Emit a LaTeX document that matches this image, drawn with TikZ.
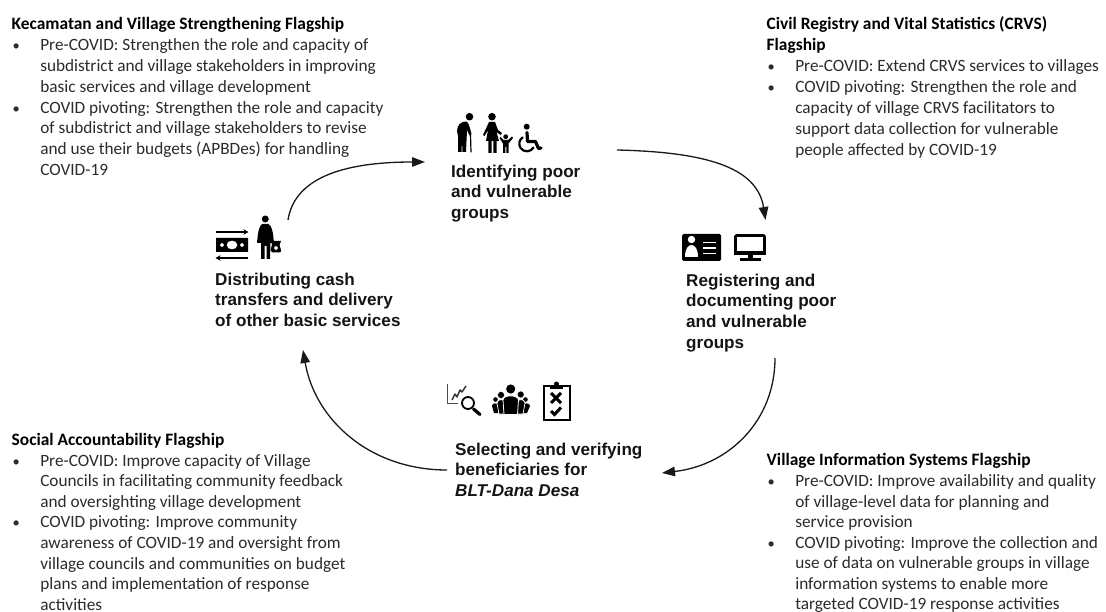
\documentclass[tikz,border=0pt]{standalone}
\usepackage{fontspec}
\setmainfont{Carlito}
\newfontfamily\lblfont{Liberation Sans}
\usetikzlibrary{arrows.meta}
\newcommand\bl{\makebox[28.6pt][l]{\hspace*{1pt}\fontsize{14.5}{20.85}\selectfont •}}
\newcommand\ind{\hspace*{28.6pt}}
\newcommand\ttl[1]{{\fontsize{17.4}{20.85}\selectfont\textcolor{black}{\textbf{#1}}}}
\definecolor{ink}{HTML}{2B2B2B}
\definecolor{labelink}{HTML}{141414}
\tikzset{
  flagship/.style={anchor=north west,inner sep=0pt,align=left,text=ink,font=\fontsize{17.25}{20.85}\selectfont},
  flagship low/.style={flagship,font=\fontsize{17.25}{20.55}\selectfont},
  steplabel/.style={anchor=north west,inner sep=0pt,align=left,text=labelink,font=\lblfont\bfseries\fontsize{17.1}{20.8}\selectfont},
  cyclearrow/.style={draw=black!90,line width=1.3pt,-{Triangle[length=13pt,width=9.5pt]}},
  solid ink/.style={fill=black,draw=none},
  stroke ink/.style={draw=black,fill=none,line cap=round,line join=round}
}
\begin{document}
\begin{tikzpicture}[x=1pt,y=-1pt]
\useasboundingbox (0,0) rectangle (1106,612);
\fill[white] (0,0) rectangle (1106,612);
% flagship text
\node[flagship] (kec) at (11.5,17.3) {\ttl{Kecamatan and Village Strengthening Flagship}\\
\bl Pre-COVID: Strengthen the role and capacity of\\
\ind subdistrict and village stakeholders in improving\\
\ind basic services and village development\\
\bl COVID pivoting: Strengthen the role and capacity\\
\ind of subdistrict and village stakeholders to revise\\
\ind and use their budgets (APBDes) for handling\\
\ind COVID-19};
\node[flagship] (crvs) at (766.5,16.8) {\ttl{Civil Registry and Vital Statistics (CRVS)}\\
\ttl{Flagship}\\
\bl Pre-COVID: Extend CRVS services to villages\\
\bl COVID pivoting: Strengthen the role and\\
\ind capacity of village CRVS facilitators to\\
\ind support data collection for vulnerable\\
\ind people affected by COVID-19};
\node[flagship low] (soc) at (11.5,433.3) {\ttl{Social Accountability Flagship}\\
\bl Pre-COVID: Improve capacity of Village\\
\ind Councils in facilitating community feedback\\
\ind and oversighting village development\\
\bl COVID pivoting: Improve community\\
\ind awareness of COVID-19 and oversight from\\
\ind village councils and communities on budget\\
\ind plans and implementation of response\\
\ind activities};
\node[flagship low] (vis) at (766.5,453.5) {\ttl{Village Information Systems Flagship}\\
\bl Pre-COVID: Improve availability and quality\\
\ind of village-level data for planning and\\
\ind service provision\\
\bl COVID pivoting: Improve the collection and\\
\ind use of data on vulnerable groups in village\\
\ind information systems to enable more\\
\ind targeted COVID-19 response activities};
% step labels
\node[steplabel] (identify) at (451,164.5) {Identifying poor\\and vulnerable\\groups};
\node[steplabel] (distribute) at (215,272.5) {Distributing cash\\transfers and delivery\\of other basic services};
\node[steplabel] (register) at (686,273.5) {Registering and\\documenting poor\\and vulnerable\\groups};
\node[steplabel] (select) at (455,442.5) {Selecting and verifying\\beneficiaries for\\\textit{BLT-Dana Desa}};
% arrows
\draw[cyclearrow] ([shift={(73,-52.5)}]distribute.north west) .. controls (295,175) and (350,162) .. ([shift={(-26,-2.5)}]identify.north west);
\draw[cyclearrow] ([shift={(166,-14.5)}]identify.north west) .. controls (700,152) and (757,165) .. ([shift={(79.5,-53.5)}]register.north west);
\draw[cyclearrow] ([shift={(89,84.5)}]register.north west) .. controls (775,420) and (730,465) .. ([shift={(207,30.5)}]select.north west);
\draw[cyclearrow] ([shift={(-8,27.5)}]select.north west) .. controls (370,470) and (315,420) .. ([shift={(88,77.5)}]distribute.north west);
% elderly man
\fill[solid ink] (469.5,116.7) circle (3.8);
\fill[solid ink] (457,131) .. controls (457,125) and (461,121.5) .. (466,121.5) .. controls (468,122) and (469,124) .. (471.5,134) -- (469.5,135.5) -- (467,130) -- (466,152) -- (462.5,152) -- (462,140) -- (461.5,152) -- (458,152) -- (458,136) -- cycle;
\draw[stroke ink,line width=1.2pt] (470.5,134.5) -- (471,152);
% woman and child
\fill[solid ink] (492,116.7) circle (3.8);
\fill[solid ink] (489,122) -- (495,122) -- (498,130) -- (502,133) -- (500.5,135) -- (496.5,132) -- (499,141) -- (496.7,141) -- (496.7,153) -- (493.3,153) -- (493.3,141) -- (491.7,141) -- (491.7,153) -- (488.3,153) -- (488.3,141) -- (486,141) -- (488,130) -- (484.5,136) -- (483,135) -- cycle;
\fill[solid ink] (505.7,136.7) circle (2.4);
\fill[solid ink] (500.5,137) -- (503.5,140) -- (508,140) -- (512,136.5) -- (513,138) -- (508.5,143.5) -- (508.5,153) -- (506.3,153) -- (506.3,147) -- (505.3,147) -- (505.3,153) -- (503,153) -- (503,143.5) -- (499.5,138) -- cycle;
% wheelchair user
\fill[solid ink] (526.7,126.7) circle (3);
\draw[stroke ink,line width=3.2pt] (527,132.5) -- (527.5,141.5) -- (535.5,141.5) -- (538.5,148.5) -- (541,148);
\draw[stroke ink,line width=2.2pt] (522.5,137.5) arc[start angle=125,end angle=330,radius=7.6pt];
% money and woman with bag
\draw[draw=black,line width=1.4pt,-{Stealth[length=5pt,width=5.5pt]}] (216,232) -- (248.5,232);
\draw[draw=black,line width=1.4pt,-{Stealth[length=5pt,width=5.5pt]}] (248,258) -- (215.5,258);
\fill[solid ink,even odd rule] (216,238) rectangle (248,252) (232,245) ellipse (5.5 and 4.5) (222,245) circle (2) (242,245) circle (2);
\fill[solid ink] (265.3,219) circle (3.5);
\fill[solid ink] (262,224) -- (268.5,224) .. controls (272,226) and (273,232) .. (274,243) -- (270.5,243) -- (270,259) -- (266.5,259) -- (266.5,246) -- (264.5,246) -- (264.5,259) -- (261,259) -- (261,243) -- (257,243) .. controls (258,232) and (259,226) .. (262,224) -- cycle;
\fill[solid ink,even odd rule] (272,245) .. controls (270.5,249) and (270.5,252) .. (272,252.5) -- (280,252.5) .. controls (281.5,252) and (281,249) .. (279.5,245) -- (281,241) -- (271,241) -- (272,245) -- cycle (276,248) circle (2);
% id card and monitor
\fill[solid ink,rounded corners=1.5pt] (682,234) rectangle (721,261);
\fill[white] (691.5,239.5) circle (3.7);
\fill[white] (685,257) .. controls (685,249) and (688,245) .. (691.5,245) .. controls (695,245) and (698,249) .. (698,257) -- cycle;
\draw[white,line width=1.8pt] (703,242.5) -- (716,242.5) (703,248) -- (716,248) (703,253.5) -- (716,253.5);
\draw[draw=black,line width=2.6pt,rounded corners=1pt,fill=white] (735.5,235.5) rectangle (764.5,253);
\fill[solid ink] (734,251.5) rectangle (766,255);
\fill[solid ink] (747.5,255) rectangle (752.5,259);
\fill[solid ink] (739.5,258.5) rectangle (760.5,261);
% chart and magnifier
\draw[draw=black!70,line width=1.2pt] (447.5,384) -- (447.5,403.5) -- (458,403.5);
\draw[draw=black!80,line width=1.5pt,line join=round] (452,400) -- (455,394) -- (457,397) -- (460,390) -- (462,392) -- (466,386);
\draw[draw=black,line width=1.8pt,fill=white] (468,403) circle (6);
\draw[draw=black,line width=3.2pt,line cap=round] (473.5,409) -- (480,414.5);
% community
\fill[solid ink] (495.5,399.5) circle (2.3);
\fill[solid ink] (525.5,399.5) circle (2.3);
\fill[solid ink] (492,406) .. controls (492,402.5) and (498,402.5) .. (499,406) -- (498,413) -- (494,413) -- cycle;
\fill[solid ink] (522,406) .. controls (523,402.5) and (530,402.5) .. (530,406) -- (527,413) -- (523.5,413) -- cycle;
\draw[white,line width=0.7pt,fill=black] (497,403) .. controls (497,398.5) and (505,398.5) .. (506,403) -- (505,414) -- (499,414) -- cycle;
\draw[white,line width=0.7pt,fill=black] (516,403) .. controls (517,398.5) and (525,398.5) .. (525,403) -- (523,414) -- (517,414) -- cycle;
\draw[white,line width=0.5pt,fill=black] (501,395) circle (3.5);
\draw[white,line width=0.5pt,fill=black] (520.7,394.5) circle (3.5);
\draw[white,line width=0.8pt,fill=black] (503,400) .. controls (503,394.5) and (518,394.5) .. (518.5,400) -- (517.5,414.5) -- (504,414.5) -- cycle;
\fill[solid ink] (510.7,389) circle (4.6);
% clipboard
\draw[draw=black,line width=2pt,fill=white] (543.5,386) rectangle (569.5,419.5);
\fill[solid ink] (550,384.5) rectangle (563,388.5);
\fill[solid ink] (556.5,384) circle (2.5);
\draw[draw=black,line width=3pt] (551,393) -- (561,403) (561,393) -- (551,403);
\draw[draw=black,line width=3pt] (551,411) -- (554.5,414.5) -- (561,407.5);
\end{tikzpicture}
\end{document}
